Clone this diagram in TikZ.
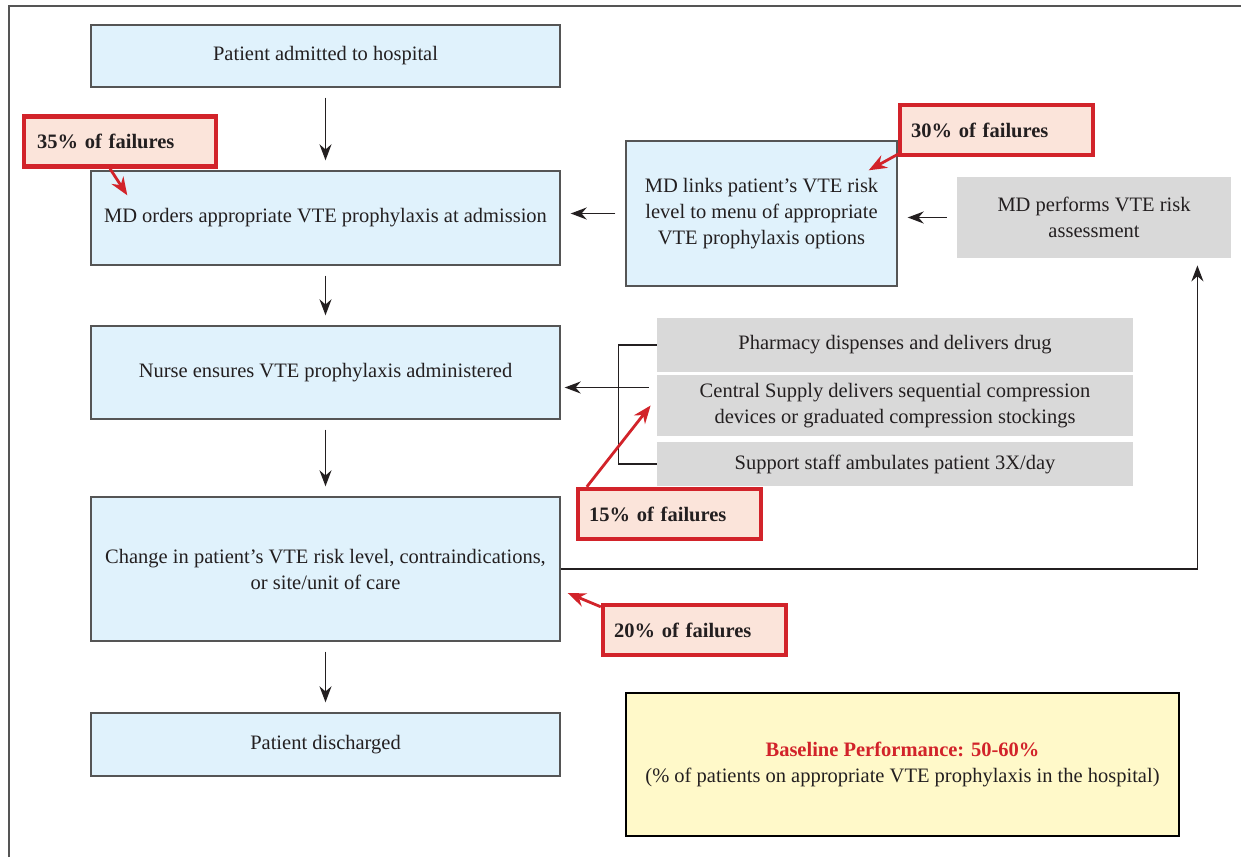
\documentclass[tikz,border=0pt]{standalone}
\usepackage{fontspec}
\setmainfont{Liberation Serif}
\usepackage{tikz}
\usetikzlibrary{arrows.meta}

\definecolor{boxblue}{HTML}{E0F2FC}
\definecolor{boxline}{HTML}{555555}
\definecolor{taskgray}{HTML}{D9D9D9}
\definecolor{failred}{HTML}{D2232A}
\definecolor{failfill}{HTML}{FBE4DA}
\definecolor{notefill}{HTML}{FFF9C9}
\definecolor{textcol}{HTML}{231F20}

\begin{document}
\begin{tikzpicture}[x=0.5pt,y=-0.5pt]
    \tikzstyle{every node}=[font=\fontsize{10.25}{13}\selectfont, text=textcol]
    \tikzstyle{stepbox}=[draw=boxline, line width=0.7pt, fill=boxblue,
        inner sep=0pt, align=center]
    \tikzstyle{taskbox}=[fill=taskgray, inner sep=0pt, align=center]
    \tikzstyle{failbox}=[draw=failred, line width=2.2pt, fill=failfill,
        inner xsep=5.5pt, inner ysep=0pt, minimum height=25pt,
        align=left, font=\fontsize{10.25}{13}\selectfont\bfseries]
    \tikzstyle{flow}=[draw=textcol, line width=0.75pt,
        -{Stealth[length=8pt,width=6pt]}, shorten <=5pt, shorten >=5pt]
    \tikzstyle{failarrow}=[draw=failred, line width=1.4pt,
        -{Stealth[length=9pt,width=7pt]}]

    \useasboundingbox (0,0) rectangle (1241,857);
    \draw[boxline, line width=1pt] (9,857) -- (9,6) -- (1241,6);

    % main flow
    \node[stepbox, minimum width=234.5pt, minimum height=31pt] (admit) at (325.5,56)
        {Patient admitted to hospital};
    \node[stepbox, minimum width=234.5pt, minimum height=47pt] (orders) at (325.5,218)
        {MD orders appropriate VTE prophylaxis at admission};
    \node[stepbox, minimum width=234.5pt, minimum height=46.5pt] (nurse) at (325.5,372.5)
        {Nurse ensures VTE prophylaxis administered};
    \node[stepbox, minimum width=234.5pt, minimum height=72pt] (change) at (325.5,569)
        {Change in patient’s VTE risk level, contraindications,\\or site/unit of care};
    \node[stepbox, minimum width=234.5pt, minimum height=31.5pt] (discharge) at (325.5,744.5)
        {Patient discharged};

    \draw[flow] (admit) -- (orders);
    \draw[flow] (orders) -- (nurse);
    \draw[flow] (nurse) -- (change);
    \draw[flow] (change) -- (discharge);

    % risk assessment
    \node[stepbox, minimum width=135.5pt, minimum height=72.5pt] (links) at (761.5,213.5)
        {MD links patient’s VTE risk\\level to menu of appropriate\\VTE prophylaxis options};
    \node[taskbox, minimum width=137pt, minimum height=40.5pt] (assess) at (1094,217.5)
        {MD performs VTE risk\\assessment};

    \draw[flow] (links) -- (links -| orders.east);
    \draw[flow] (assess) -- (assess -| links.east);

    % support tasks
    \node[taskbox, minimum width=238pt, minimum height=27pt] (pharmacy) at (895,345)
        {Pharmacy dispenses and delivers drug};
    \node[taskbox, minimum width=238pt, minimum height=30.5pt] (supply) at (895,405.5)
        {Central Supply delivers sequential compression\\devices or graduated compression stockings};
    \node[taskbox, minimum width=238pt, minimum height=22pt] (ambulate) at (895,464)
        {Support staff ambulates patient 3X/day};

    \draw[textcol, line width=0.6pt] (pharmacy.west) -- ++(-38,0) |- (ambulate.west);
    \draw[flow, shorten <=4pt, shorten >=2pt] ([yshift=9pt]supply.west)
        -- ([yshift=9pt]supply.west -| nurse.east);

    \draw[flow, shorten <=0pt, shorten >=3.5pt] (change.east) -| ([xshift=-17pt]assess.south east);

    % failure points
    \node[failbox, text width=83pt, inner xsep=6.5pt] (fail35) at (120,141.5) {35\% of failures};
    \node[failbox, text width=85.5pt] (fail30) at (996.5,130) {30\% of failures};
    \node[failbox, text width=80.5pt] (fail15) at (669.5,514) {15\% of failures};
    \node[failbox, text width=80.5pt] (fail20) at (694.5,630) {20\% of failures};

    \draw[failarrow] ([xshift=-5pt]fail35.south) -- ([xshift=18.5pt,yshift=-12.5pt]orders.north west);
    \draw[failarrow] ([xshift=1pt,yshift=2pt]fail30.south west) -- ([xshift=-14.5pt,yshift=-15pt]links.north east);
    \draw[failarrow] ([xshift=5.5pt]fail15.north west) -- ([xshift=-3pt]supply.west);
    \draw[failarrow] ([yshift=-2pt]fail20.north west) -- ([xshift=3.5pt,yshift=-12pt]change.east);

    % baseline
    \node[draw=black, line width=1.2pt, fill=notefill, minimum width=276.5pt,
        minimum height=71.5pt, align=center] (baseline) at (902.5,764.5)
        {{\color{failred}\bfseries Baseline Performance: 50-60\%}\\
        (\% of patients on appropriate VTE prophylaxis in the hospital)};
\end{tikzpicture}
\end{document}
